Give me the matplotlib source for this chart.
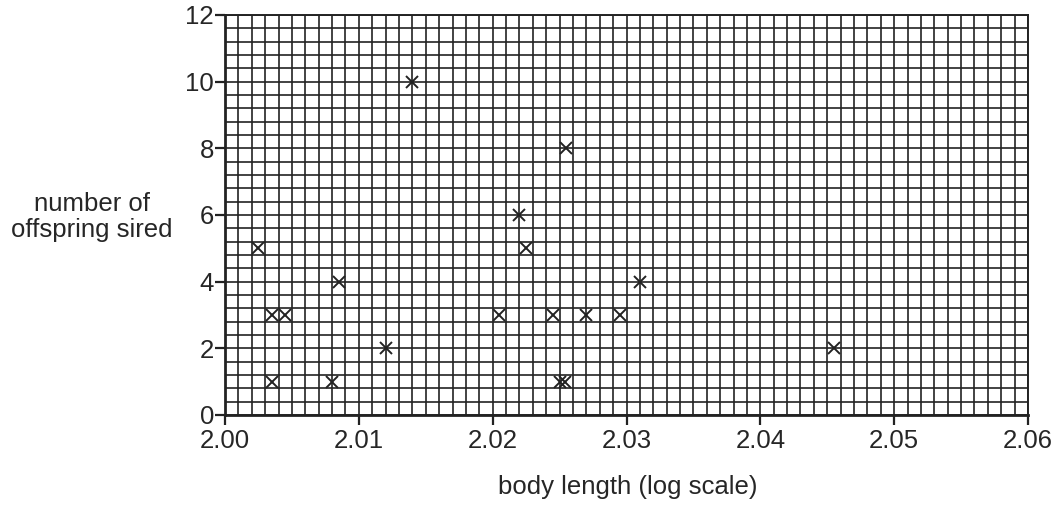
import numpy as np
import matplotlib
matplotlib.use("Agg")
from matplotlib import pyplot as plt

# Data
body_length = [2.0025, 2.0035, 2.0045, 2.0035, 2.008, 2.0085, 2.012, 2.014,
               2.0205, 2.022, 2.0225, 2.0255, 2.0245, 2.025, 2.0254, 2.027,
               2.0295, 2.031, 2.0455]
offspring = [5, 3, 3, 1, 1, 4, 2, 10, 3, 6, 5, 8, 3, 1, 1, 3, 3, 4, 2]

x_ticks = [2.00, 2.01, 2.02, 2.03, 2.04, 2.05, 2.06]
x_tick_labels = ["2.00", "2.01", "2.02", "2.03", "2.04", "2.05", "2.06"]
y_ticks = [0, 2, 4, 6, 8, 10, 12]

plt.rcParams['font.family'] = ['Liberation Sans', 'DejaVu Sans']
text_col = "#262626"

fig = plt.figure(figsize=(10.6, 5.08), dpi=100)
ax = fig.add_axes([0.2123, 0.1831, 0.9698 - 0.2123, 0.9705 - 0.1831])

ax.plot(body_length, offspring, linestyle="none", marker="x", markersize=8,
        markeredgewidth=1.4, color="#222222", zorder=3)

ax.set_xlim(2.00, 2.06)
ax.set_ylim(0, 12)

# Graph paper grid
ax.set_xticks(x_ticks)
ax.set_xticklabels(x_tick_labels)
ax.set_yticks(y_ticks)
ax.set_xticks(np.linspace(2.00, 2.06, 61), minor=True)
ax.set_yticks(np.linspace(0, 12, 31), minor=True)
ax.grid(which="both", color="#222222", linewidth=1.2)
ax.set_axisbelow(True)

ax.tick_params(which="minor", length=0)
ax.tick_params(which="major", direction="out", length=7, width=1.6,
               labelsize=18.5, colors="#222222", labelcolor=text_col, pad=1)
ax.tick_params(axis="x", pad=3)
ax.tick_params(top=False, right=False)

for s in ax.spines.values():
    s.set_color("#222222")
    s.set_linewidth(1.4)
for s in ["left", "bottom"]:
    ax.spines[s].set_linewidth(2.0)

fig.text(0.087, 0.572, "number of\noffspring sired", ha="center", va="center",
         fontsize=18.5, color=text_col, linespacing=1.1)
fig.text(0.592, 0.041, "body length (log scale)", ha="center", va="center",
         fontsize=18.5, color=text_col)

fig.savefig("out.png", dpi=100)
